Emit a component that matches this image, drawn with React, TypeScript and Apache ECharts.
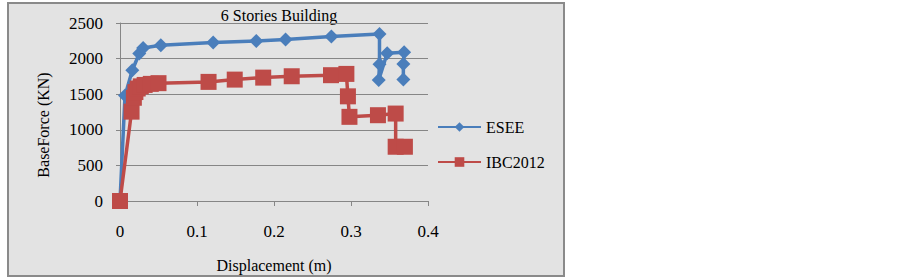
import React, { useEffect, useRef } from "react";
import * as echarts from "echarts";

const titleText = "6 Stories Building";
const xName = "Displacement (m)";
const yName = "BaseForce (KN)";

const eseeX = [0, 0.0065, 0.016, 0.025, 0.03, 0.053, 0.121, 0.177, 0.215, 0.2745, 0.337, 0.337, 0.336, 0.347, 0.369, 0.368, 0.368];
const eseeY = [0, 1480, 1837, 2071, 2150, 2188, 2225, 2248, 2268, 2310, 2345, 1920, 1700, 2075, 2090, 1925, 1705];

const ibcX = [0, 0.015, 0.018, 0.02, 0.023, 0.027, 0.032, 0.04, 0.05, 0.115, 0.149, 0.186, 0.223, 0.274, 0.294, 0.296, 0.298, 0.335, 0.358, 0.358, 0.37];
const ibcY = [0, 1255, 1450, 1530, 1580, 1610, 1630, 1645, 1655, 1673, 1705, 1733, 1752, 1767, 1785, 1470, 1182, 1205, 1228, 762, 762];

const FONT = "'Liberation Serif', 'Times New Roman', serif";

export default function App() {
  const ref = useRef<HTMLDivElement>(null);
  useEffect(() => {
    const chart = echarts.init(ref.current!, undefined, { renderer: "svg" });
    const esee = eseeX.map((x, i) => [x, eseeY[i]]);
    const ibc = ibcX.map((x, i) => [x, ibcY[i]]);
    chart.setOption({
      animation: false,
      backgroundColor: "#ffffff",
      textStyle: { fontFamily: FONT },
      graphic: [
        {
          type: "rect",
          z: -10,
          shape: { x: 8, y: 3, width: 556, height: 273 },
          style: { fill: "#e3e3e3", stroke: "#8a8a8a", lineWidth: 2 },
        },
        {
          type: "text",
          x: 279,
          y: 15,
          style: { text: titleText, font: `16px ${FONT}`, fill: "#000", textAlign: "center", textVerticalAlign: "middle" },
        },
        {
          type: "text",
          x: 274,
          y: 265,
          style: { text: xName, font: `16px ${FONT}`, fill: "#000", textAlign: "center", textVerticalAlign: "middle" },
        },
        {
          type: "text",
          x: 43,
          y: 125,
          rotation: Math.PI / 2,
          style: { text: yName, font: `16px ${FONT}`, fill: "#000", textAlign: "center", textVerticalAlign: "middle" },
        },
      ],
      grid: { left: 120, right: 474, top: 23, bottom: 78 },
      legend: {
        orient: "vertical",
        left: 432,
        top: 114,
        itemWidth: 43,
        itemHeight: 12,
        itemGap: 19,
        textStyle: { fontFamily: FONT, fontSize: 16, color: "#000" },
        data: ["ESEE", "IBC2012"],
      },
      xAxis: {
        type: "value",
        min: 0,
        max: 0.4,
        interval: 0.1,
        axisLine: { lineStyle: { color: "#868686", width: 1 } },
        axisTick: { show: true, length: 5, lineStyle: { color: "#868686" } },
        splitLine: { show: false },
        axisLabel: { color: "#000", fontSize: 17, fontFamily: FONT, margin: 22, formatter: (v: number) => String(v) },
      },
      yAxis: {
        type: "value",
        min: 0,
        max: 2500,
        interval: 500,
        axisLine: { show: true, lineStyle: { color: "#868686", width: 1 } },
        axisTick: { show: true, length: 4, lineStyle: { color: "#868686" } },
        splitLine: { show: true, lineStyle: { color: "#868686", width: 1 } },
        axisLabel: { color: "#000", fontSize: 17, fontFamily: FONT, margin: 17, formatter: (v: number) => String(v) },
      },
      series: [
        {
          name: "ESEE",
          type: "line",
          data: esee,
          symbol: "diamond",
          symbolSize: 14,
          showAllSymbol: true,
          lineStyle: { color: "#4a7ebb", width: 3.5 },
          itemStyle: { color: "#4a7ebb" },
        },
        {
          name: "IBC2012",
          type: "line",
          data: ibc,
          symbol: "rect",
          symbolSize: 16,
          showAllSymbol: true,
          lineStyle: { color: "#be4b48", width: 3.5 },
          itemStyle: { color: "#be4b48" },
        },
      ],
    });
    return () => chart.dispose();
  }, []);
  return <div ref={ref} style={{ position: "fixed", left: 0, top: 0, width: 902, height: 279 }} />;
}
